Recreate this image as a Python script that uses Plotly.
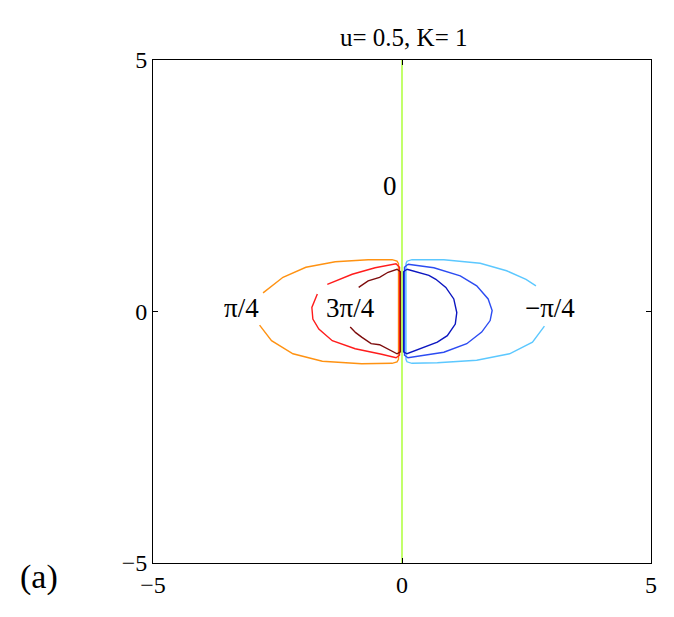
import plotly.graph_objects as go

# contour lines (data units)
orange_x = [-2.86, -2.62, -2.19, -1.6, -0.81, -0.2, -0.1, -0.07, -0.07, -0.1, -0.2, -0.68, -1.34, -1.93, -2.39, -2.79]
orange_y = [-0.27, -0.58, -0.84, -0.99, -1.04, -1.03, -1.0, -0.95, 0.95, 1.0, 1.03, 1.03, 0.99, 0.88, 0.68, 0.37]

red_x = [-1.7, -1.81, -1.79, -1.67, -1.4, -0.94, -0.41, -0.12, -0.05, -0.05, -0.12, -0.54, -1.0, -1.5]
red_y = [0.35, 0.08, -0.15, -0.35, -0.58, -0.74, -0.85, -0.92, -0.87, 0.88, 0.95, 0.87, 0.74, 0.54]

maroon_x = [-1.04, -0.93, -0.81, -0.62, -0.45, -0.3, -0.1, -0.03, -0.03, -0.1, -0.28, -0.45, -0.68, -0.87]
maroon_y = [-0.31, -0.42, -0.51, -0.64, -0.66, -0.74, -0.84, -0.8, 0.79, 0.84, 0.78, 0.68, 0.61, 0.48]

zero_x = [0, 0]
zero_y = [-5, 5]

lblue_x = [2.69, 2.49, 2.1, 1.57, 0.84, 0.2, 0.1, 0.08, 0.08, 0.1, 0.2, 0.71, 1.5, 2.16, 2.62, 2.86]
lblue_y = [0.51, 0.64, 0.81, 0.96, 1.03, 1.03, 1.0, 0.95, -0.95, -1.0, -1.03, -1.02, -0.97, -0.84, -0.61, -0.29]

blue_x = [0.12, 0.64, 1.17, 1.5, 1.73, 1.81, 1.77, 1.6, 1.3, 0.84, 0.12, 0.05, 0.05, 0.12]
blue_y = [0.94, 0.87, 0.71, 0.51, 0.25, 0.02, -0.18, -0.41, -0.64, -0.81, -0.92, -0.87, 0.88, 0.94]

dblue_x = [0.1, 0.31, 0.54, 0.68, 0.88, 1.04, 1.1, 1.07, 0.91, 0.71, 0.51, 0.28, 0.1, 0.03, 0.03, 0.1]
dblue_y = [0.84, 0.78, 0.72, 0.64, 0.48, 0.25, -0.02, -0.25, -0.48, -0.61, -0.69, -0.78, -0.84, -0.8, 0.79, 0.84]

labels = ["π/4", "3π/4", "−π/4", "0"]
label_x = [-3.22, -1.04, 2.98, -0.25]
label_y = [0.07, 0.07, 0.07, 2.5]

ticks = [-5, 0, 5]
tick_text = ["−5", "0", "5"]

serif = "Liberation Serif, Times New Roman, serif"

fig = go.Figure()
curves = [
    (orange_x, orange_y, "#ff9212"),
    (red_x, red_y, "#ff1c1c"),
    (maroon_x, maroon_y, "#7d0c0c"),
    (lblue_x, lblue_y, "#5cc8ff"),
    (blue_x, blue_y, "#2c4cf2"),
    (dblue_x, dblue_y, "#0c16c0"),
    (zero_x, zero_y, "#a8ff2c"),
]
for cx, cy, col in curves:
    fig.add_trace(go.Scatter(x=cx, y=cy, mode="lines", line=dict(color=col, width=1.4),
                             hoverinfo="skip", showlegend=False))

for t, lx, ly in zip(labels, label_x, label_y):
    fig.add_annotation(x=lx, y=ly, text=t, showarrow=False,
                       font=dict(family=serif, size=27, color="black"))

fig.add_annotation(xref="paper", yref="paper", x=0.505, y=1, xanchor="center", yanchor="bottom", yshift=7,
                   text="u= 0.5, K= 1", showarrow=False,
                   font=dict(family=serif, size=25, color="black"))
fig.add_annotation(xref="paper", yref="paper", x=-0.228, y=-0.028, xanchor="center", yanchor="middle",
                   text="(a)", showarrow=False,
                   font=dict(family=serif, size=34, color="black"))

axis = dict(range=[-5, 5], tickvals=ticks, ticktext=tick_text, ticks="inside", ticklen=5,
            tickcolor="black", showline=True, linecolor="black", linewidth=1, mirror="ticks",
            showgrid=False, zeroline=False,
            tickfont=dict(family=serif, size=24, color="black"))

# page body has an 8px margin; keep the figure (and its labels) inside the window
fig.update_layout(
    width=658, height=599,
    margin=dict(l=145, r=9, t=52, b=41),
    plot_bgcolor="white", paper_bgcolor="white",
    xaxis=axis, yaxis=axis,
)

fig.write_html("out.html")
